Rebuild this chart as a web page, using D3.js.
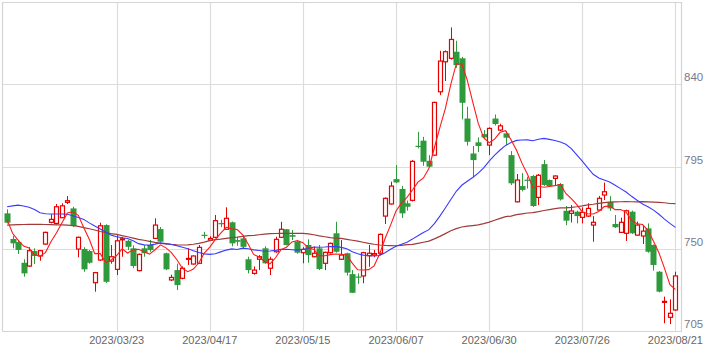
<!DOCTYPE html>
<html><head><meta charset="utf-8">
<script src="https://cdn.jsdelivr.net/npm/d3@7"></script>
<style>body{margin:0;background:#fff}svg{display:block}</style>
</head><body>
<svg id="c" width="723" height="353"></svg>
<script>
// ---- data ----
const opens = [769.5,755.5,753.8,742.5,740.7,748.9,746.2,752.7,764.6,764.0,767.1,775.5,772.2,750.0,750.0,748.9,731.6,744.0,763.1,743.4,
738.9,755.0,754.5,750.4,738.2,750.4,752.2,755.8,760.9,747.7,733.1,738.5,734.0,744.4,741.8,742.2,757.8,754.9,756.4,764.2,
760.8,764.6,754.9,755.8,744.4,736.7,744.4,750.4,739.5,748.5,756.4,760.8,757.6,754.0,748.0,752.2,745.8,750.4,742.2,748.0,
758.6,744.4,747.7,736.3,735.0,735.3,746.3,746.7,747.7,768.0,774.6,788.2,782.8,775.0,776.6,806.4,809.2,798.2,801.3,835.9,
852.3,854.2,857.8,854.2,821.3,802.2,808.3,812.8,806.8,821.3,815.0,813.2,801.3,775.8,784.4,787.9,789.9,778.2,796.4,787.7,
788.6,785.5,770.9,769.5,770.4,767.3,768.0,763.1,771.3,779.5,775.8,763.7,759.1,758.6,770.4,757.6,757.1,761.3,752.2,737.6,
721.0,712.7,716.7];
const highs = [771.7,757.3,755.0,744.4,751.0,750.4,749.5,759.5,769.0,774.6,775.0,778.9,773.1,756.8,751.0,749.5,737.5,764.4,763.5,752.2,
757.6,756.7,755.0,752.0,747.5,752.2,755.0,766.8,762.0,748.0,736.0,742.0,740.5,750.4,746.5,752.2,759.4,757.0,768.6,766.0,
772.8,765.0,756.5,757.6,745.8,740.5,746.7,751.5,745.8,756.7,764.9,761.0,760.4,754.5,751.0,755.3,751.3,752.2,748.5,753.5,
764.9,754.9,748.0,738.5,736.7,748.5,752.2,749.5,758.5,778.2,786.8,795.9,784.5,776.5,798.6,814.0,811.3,801.3,830.5,858.3,
858.5,871.1,863.8,855.0,827.7,806.3,811.0,815.0,816.5,823.5,818.5,814.5,803.5,791.0,791.5,789.5,790.5,791.0,798.6,788.0,
790.3,786.0,773.5,774.0,771.0,772.8,775.0,768.0,779.0,786.3,778.9,768.6,767.1,771.5,771.0,765.0,763.0,764.0,752.5,738.0,
724.0,722.5,737.6];
const lows = [764.0,750.4,747.3,734.9,740.2,741.8,743.6,752.3,764.0,763.5,767.0,774.6,762.0,745.5,737.6,742.0,726.7,743.5,731.5,742.0,
735.8,745.8,749.4,739.5,737.8,745.8,748.5,755.5,753.5,738.5,732.5,727.6,733.5,741.3,741.5,742.0,755.8,754.5,756.0,762.0,
760.5,751.5,751.8,750.4,736.7,736.0,738.5,742.0,735.8,748.0,756.0,752.0,754.9,747.5,742.2,742.5,745.5,738.5,738.5,747.5,
748.0,744.0,735.5,726.0,731.0,731.3,740.3,745.5,746.6,763.7,774.3,786.0,767.0,771.0,776.0,805.0,795.5,794.5,801.0,834.1,
841.8,853.5,849.0,820.8,806.5,789.2,803.0,810.0,801.3,817.5,814.5,806.8,785.0,775.5,781.5,783.0,773.0,774.0,784.5,784.0,
784.4,776.5,763.0,764.5,764.0,764.0,767.5,754.0,770.8,776.8,770.9,761.5,758.8,754.4,758.2,757.3,752.7,748.0,738.2,726.3,
709.4,709.0,716.2];
const closes = [764.4,753.1,749.5,736.7,749.1,746.2,749.1,759.1,766.2,773.1,773.6,776.4,762.6,756.4,738.9,742.5,737.1,762.7,732.1,745.8,
754.5,755.6,751.2,740.7,747.1,747.7,749.5,763.1,754.0,738.9,734.5,730.3,739.5,744.9,746.2,750.9,757.4,755.8,765.5,763.8,
766.8,753.1,754.0,751.2,738.5,738.5,745.8,742.2,744.4,755.3,760.8,752.2,756.7,748.0,749.8,746.7,747.7,739.1,748.2,753.1,
748.5,746.7,737.1,726.1,734.8,748.0,747.7,747.5,758.0,777.7,784.4,786.4,769.5,773.1,797.9,806.0,797.7,795.0,830.1,852.7,
857.8,864.5,850.5,829.9,808.6,798.6,806.3,811.0,815.9,818.3,817.3,810.8,785.9,787.7,782.3,787.5,773.5,790.3,785.0,784.4,
789.9,777.1,765.5,770.8,768.0,770.0,772.2,764.6,777.7,781.3,772.2,761.9,764.6,770.9,758.6,763.1,759.8,748.5,741.3,726.7,
721.4,714.9,735.3];
// moving-average values before enough candles exist
const ma5Lead = [766.0,758.6,754.9,751.6];
const ma25Lead = [773.1,773.6,774.0,773.5,772.8,771.6,769.8,769.3,769.1,769.1,769.1,769.0,768.2,767.2,766.2,764.3,762.6,761.0,759.3,757.6,
756.7,756.2,755.8,754.5];
const ma75Lead = [763.1,763.2,763.3,763.4,763.5,763.5,763.5,763.4,763.3,763.2,763.2,763.1,762.8,762.4,761.7,761.1,760.4,759.6,758.9,758.4,
758.0,757.3,756.7,756.0,755.3,754.8,754.2,753.6,753.1,752.8,752.5,752.3,752.2,752.3,752.6,753.1,753.8,754.6,755.1,755.4,
755.8,756.2,756.5,756.9,757.3,757.4,757.8,758.1,758.4,758.5,758.6,758.6,758.6,758.6,758.6,758.3,757.8,757.2,756.7,756.2,
755.9,755.8,755.3,754.8,754.3,753.7,753.1,752.6,752.2,752.0,751.9,751.8,752.0,752.4];
const tickIdx = [20,37,54,71,88,105,122];
const tickLabels = ["2023/03/23","2023/04/17","2023/05/15","2023/06/07","2023/06/30","2023/07/26","2023/08/21"];
const yTicks = [705,750,795,840];

// ---- drawing ----
const svg = d3.select("#c");
const x = d3.scaleLinear().domain([0,122]).range([7.1,675.4]);
const y = d3.scaleLinear().domain([705,840]).range([331.4,84.3]);
const L=2.5, R=681.5, T=2.5, B=331.5;

function ma(n, lead){
  return closes.map((c,i)=> i < n-1 ? lead[i] : d3.mean(closes.slice(i-n+1,i+1)));
}
const ma5 = ma(5, ma5Lead), ma25 = ma(25, ma25Lead), ma75 = ma(75, ma75Lead);

const grid = svg.append("g").attr("stroke","#dcdcdc").attr("stroke-width",1.2);
yTicks.filter(v=>v>705).forEach(v=>{
  grid.append("line").attr("x1",L).attr("x2",R).attr("y1",Math.round(y(v))+0.5).attr("y2",Math.round(y(v))+0.5);
});
tickIdx.forEach(i=>{
  grid.append("line").attr("x1",Math.round(x(i))+0.5).attr("x2",Math.round(x(i))+0.5).attr("y1",T).attr("y2",B);
});
// frame
svg.append("path").attr("d",`M${L},${B}V${T}H${R}V${B}H${L}`).attr("fill","none").attr("stroke","#d4d4d4").attr("stroke-width",1.2);

const bw = 5;
const cg = svg.append("g");
closes.forEach((c,i)=>{
  const o=opens[i], up = c>=o;
  const cx = Math.round(x(i))+0.5;
  const col = up ? "#e60000" : "#2f9a3c";
  const top = y(Math.max(o,c)), bot = y(Math.min(o,c));
  cg.append("line").attr("x1",cx).attr("x2",cx).attr("y1",y(highs[i])).attr("y2",y(lows[i]))
    .attr("stroke",col).attr("stroke-width",1);
  if(up){
    cg.append("rect").attr("x",cx-2.5+0.5).attr("y",top).attr("width",bw-1).attr("height",Math.max(1,bot-top))
      .attr("fill","#fff").attr("stroke",col).attr("stroke-width",1.2);
  } else {
    cg.append("rect").attr("x",cx-3).attr("y",top).attr("width",bw+1).attr("height",Math.max(1.2,bot-top))
      .attr("fill",col);
  }
});

const line = arr => d3.line().x((d,i)=>x(i)).y(d=>y(d))(arr);
svg.append("path").attr("d",line(ma75)).attr("fill","none").attr("stroke","#a23a3a").attr("stroke-width",1.2);
svg.append("path").attr("d",line(ma25)).attr("fill","none").attr("stroke","#3a3aff").attr("stroke-width",1.1);
svg.append("path").attr("d",line(ma5)).attr("fill","none").attr("stroke","#ff1a1a").attr("stroke-width",1.1);

const tf = "'Liberation Sans', Arial, sans-serif";
yTicks.forEach(v=>{
  svg.append("text").attr("x",684).attr("y",y(v)-3).attr("font-family",tf).attr("font-size",11.5)
    .attr("fill","#7a7a8a").text(v);
});
tickIdx.forEach((i,k)=>{
  svg.append("text").attr("x",x(i)).attr("y",344).attr("text-anchor","middle").attr("font-family",tf)
    .attr("font-size",11).attr("fill","#666").text(tickLabels[k]);
});
</script>
</body></html>
